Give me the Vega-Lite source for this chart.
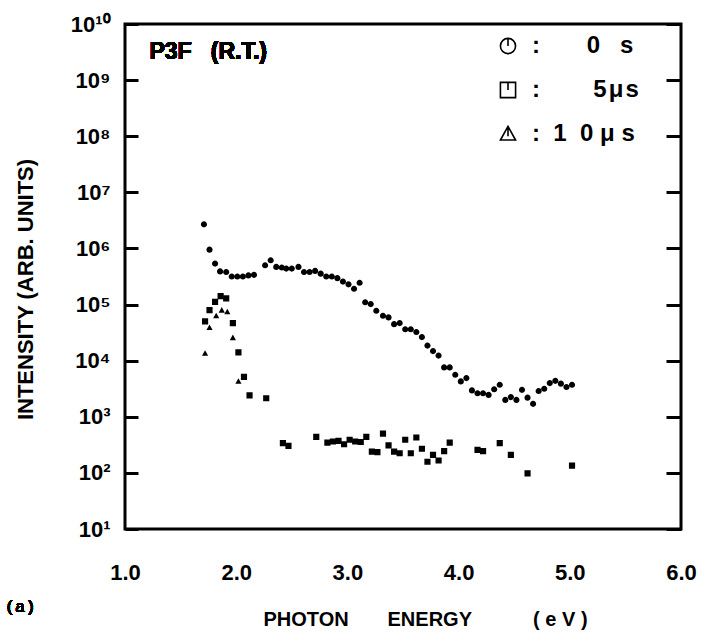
{
  "$schema": "https://vega.github.io/schema/vega-lite/v6.json",
  "width": 556,
  "height": 505,
  "autosize": {"type": "none"},
  "padding": {"left": 125, "top": 24, "right": 26, "bottom": 112},
  "background": "white",
  "config": {
    "font": "Liberation Sans",
    "view": {"stroke": "black", "strokeWidth": 3},
    "axis": {"grid": false, "domain": false, "labelColor": "black", "titleColor": "black", "labelFont": "Liberation Sans", "titleFont": "Liberation Sans"}
  },
  "data": {
    "values": [
      {"E": 1.71, "I": 2690000, "t": "0 s"},
      {"E": 1.76, "I": 950000, "t": "0 s"},
      {"E": 1.81, "I": 537000, "t": "0 s"},
      {"E": 1.855, "I": 389000, "t": "0 s"},
      {"E": 1.91, "I": 380000, "t": "0 s"},
      {"E": 1.96, "I": 316000, "t": "0 s"},
      {"E": 2.01, "I": 316000, "t": "0 s"},
      {"E": 2.06, "I": 316000, "t": "0 s"},
      {"E": 2.11, "I": 331000, "t": "0 s"},
      {"E": 2.16, "I": 339000, "t": "0 s"},
      {"E": 2.26, "I": 501000, "t": "0 s"},
      {"E": 2.31, "I": 617000, "t": "0 s"},
      {"E": 2.36, "I": 468000, "t": "0 s"},
      {"E": 2.41, "I": 457000, "t": "0 s"},
      {"E": 2.45, "I": 437000, "t": "0 s"},
      {"E": 2.50, "I": 437000, "t": "0 s"},
      {"E": 2.56, "I": 468000, "t": "0 s"},
      {"E": 2.61, "I": 380000, "t": "0 s"},
      {"E": 2.66, "I": 380000, "t": "0 s"},
      {"E": 2.71, "I": 398000, "t": "0 s"},
      {"E": 2.76, "I": 355000, "t": "0 s"},
      {"E": 2.81, "I": 316000, "t": "0 s"},
      {"E": 2.86, "I": 316000, "t": "0 s"},
      {"E": 2.91, "I": 295000, "t": "0 s"},
      {"E": 2.96, "I": 257000, "t": "0 s"},
      {"E": 3.01, "I": 229000, "t": "0 s"},
      {"E": 3.06, "I": 191000, "t": "0 s"},
      {"E": 3.11, "I": 245000, "t": "0 s"},
      {"E": 3.16, "I": 110000, "t": "0 s"},
      {"E": 3.21, "I": 102000, "t": "0 s"},
      {"E": 3.26, "I": 77600, "t": "0 s"},
      {"E": 3.32, "I": 63100, "t": "0 s"},
      {"E": 3.37, "I": 58900, "t": "0 s"},
      {"E": 3.42, "I": 44700, "t": "0 s"},
      {"E": 3.47, "I": 46800, "t": "0 s"},
      {"E": 3.52, "I": 36300, "t": "0 s"},
      {"E": 3.57, "I": 36300, "t": "0 s"},
      {"E": 3.62, "I": 32400, "t": "0 s"},
      {"E": 3.67, "I": 26300, "t": "0 s"},
      {"E": 3.72, "I": 18600, "t": "0 s"},
      {"E": 3.77, "I": 14800, "t": "0 s"},
      {"E": 3.82, "I": 12300, "t": "0 s"},
      {"E": 3.87, "I": 7590, "t": "0 s"},
      {"E": 3.92, "I": 7590, "t": "0 s"},
      {"E": 3.97, "I": 5620, "t": "0 s"},
      {"E": 4.02, "I": 4270, "t": "0 s"},
      {"E": 4.07, "I": 4900, "t": "0 s"},
      {"E": 4.12, "I": 2950, "t": "0 s"},
      {"E": 4.17, "I": 2630, "t": "0 s"},
      {"E": 4.22, "I": 2630, "t": "0 s"},
      {"E": 4.27, "I": 2450, "t": "0 s"},
      {"E": 4.32, "I": 3090, "t": "0 s"},
      {"E": 4.37, "I": 3720, "t": "0 s"},
      {"E": 4.42, "I": 2000, "t": "0 s"},
      {"E": 4.47, "I": 2240, "t": "0 s"},
      {"E": 4.52, "I": 2000, "t": "0 s"},
      {"E": 4.57, "I": 3020, "t": "0 s"},
      {"E": 4.62, "I": 2190, "t": "0 s"},
      {"E": 4.67, "I": 1700, "t": "0 s"},
      {"E": 4.72, "I": 2880, "t": "0 s"},
      {"E": 4.77, "I": 3160, "t": "0 s"},
      {"E": 4.82, "I": 3980, "t": "0 s"},
      {"E": 4.87, "I": 4370, "t": "0 s"},
      {"E": 4.92, "I": 3890, "t": "0 s"},
      {"E": 4.97, "I": 3390, "t": "0 s"},
      {"E": 5.02, "I": 3720, "t": "0 s"},
      {"E": 1.72, "I": 50100, "t": "5μs"},
      {"E": 1.76, "I": 79400, "t": "5μs"},
      {"E": 1.81, "I": 112000, "t": "5μs"},
      {"E": 1.86, "I": 141000, "t": "5μs"},
      {"E": 1.91, "I": 129000, "t": "5μs"},
      {"E": 1.97, "I": 46800, "t": "5μs"},
      {"E": 2.02, "I": 14100, "t": "5μs"},
      {"E": 2.07, "I": 5130, "t": "5μs"},
      {"E": 2.12, "I": 2400, "t": "5μs"},
      {"E": 2.27, "I": 2140, "t": "5μs"},
      {"E": 2.42, "I": 339, "t": "5μs"},
      {"E": 2.47, "I": 302, "t": "5μs"},
      {"E": 2.72, "I": 437, "t": "5μs"},
      {"E": 2.82, "I": 347, "t": "5μs"},
      {"E": 2.87, "I": 363, "t": "5μs"},
      {"E": 2.92, "I": 372, "t": "5μs"},
      {"E": 2.97, "I": 324, "t": "5μs"},
      {"E": 3.02, "I": 389, "t": "5μs"},
      {"E": 3.07, "I": 363, "t": "5μs"},
      {"E": 3.12, "I": 355, "t": "5μs"},
      {"E": 3.17, "I": 437, "t": "5μs"},
      {"E": 3.22, "I": 240, "t": "5μs"},
      {"E": 3.27, "I": 234, "t": "5μs"},
      {"E": 3.32, "I": 501, "t": "5μs"},
      {"E": 3.37, "I": 309, "t": "5μs"},
      {"E": 3.42, "I": 240, "t": "5μs"},
      {"E": 3.47, "I": 224, "t": "5μs"},
      {"E": 3.52, "I": 389, "t": "5μs"},
      {"E": 3.57, "I": 224, "t": "5μs"},
      {"E": 3.62, "I": 427, "t": "5μs"},
      {"E": 3.67, "I": 269, "t": "5μs"},
      {"E": 3.72, "I": 158, "t": "5μs"},
      {"E": 3.77, "I": 209, "t": "5μs"},
      {"E": 3.82, "I": 166, "t": "5μs"},
      {"E": 3.87, "I": 245, "t": "5μs"},
      {"E": 3.92, "I": 347, "t": "5μs"},
      {"E": 4.17, "I": 257, "t": "5μs"},
      {"E": 4.22, "I": 245, "t": "5μs"},
      {"E": 4.37, "I": 339, "t": "5μs"},
      {"E": 4.47, "I": 209, "t": "5μs"},
      {"E": 4.62, "I": 98, "t": "5μs"},
      {"E": 5.02, "I": 135, "t": "5μs"},
      {"E": 1.72, "I": 13500, "t": "10μs"},
      {"E": 1.76, "I": 38900, "t": "10μs"},
      {"E": 1.82, "I": 63100, "t": "10μs"},
      {"E": 1.87, "I": 79400, "t": "10μs"},
      {"E": 1.92, "I": 74100, "t": "10μs"},
      {"E": 1.97, "I": 25700, "t": "10μs"},
      {"E": 2.02, "I": 4270, "t": "10μs"}
    ]
  },
  "layer": [
    {
      "mark": {"type": "point", "filled": true, "size": 38, "color": "black", "opacity": 1},
      "encoding": {
        "x": {
          "field": "E", "type": "quantitative",
          "scale": {"domain": [1, 6], "nice": false, "zero": false},
          "axis": {
            "values": [1, 2, 3, 4, 5, 6], "format": ".1f", "ticks": false, "labelFlush": false, "labelDx": 3,
            "labelFontSize": 22, "labelFontWeight": "bold", "labelPadding": 33,
            "title": "PHOTON\u00a0\u00a0\u00a0\u00a0\u00a0\u00a0\u00a0ENERGY\u00a0\u00a0\u00a0\u00a0\u00a0\u00a0\u00a0\u00a0\u00a0\u00a0\u00a0(\u00a0e\u00a0V\u00a0)",
            "titleFontSize": 20, "titleFontWeight": "bold", "titlePadding": 26, "titleX": 300
          }
        },
        "y": {
          "field": "I", "type": "quantitative",
          "scale": {"type": "log", "domain": [10, 10000000000], "nice": false},
          "axis": {
            "orient": "left",
            "values": [10, 100, 1000, 10000, 100000, 1000000, 10000000, 100000000, 1000000000, 10000000000],
            "labelExpr": "['10¹','10²','10³','10⁴','10⁵','10⁶','10⁷','10⁸','10⁹','10¹⁰'][round(log(datum.value)/LN10)-1]",
            "tickSize": -13, "tickWidth": 3, "tickColor": "black",
            "labelFontSize": 22, "labelFontWeight": "bold", "labelPadding": 28,
            "title": "INTENSITY (ARB. UNITS)", "titleFontSize": 22, "titleFontWeight": "bold",
            "titleX": -88, "titleY": 265, "titleAnchor": "middle"
          }
        },
        "shape": {
          "field": "t", "type": "nominal",
          "scale": {
            "domain": ["0 s", "5μs", "10μs"],
            "range": [
              "M-1,0A1,1 0 1,0 1,0A1,1 0 1,0 -1,0ZM0,-1L0,0",
              "M-1,-1L1,-1L1,1L-1,1ZM0,-1L0,0",
              "M0,-1L1,0.8L-1,0.8ZM0,-1L0,0.3"
            ]
          },
          "legend": null
        }
      }
    },
    {
      "mark": {"type": "point", "filled": false, "opacity": 0, "color": "black", "strokeWidth": 1.5},
      "encoding": {
        "x": {"field": "E", "type": "quantitative"},
        "y": {"field": "I", "type": "quantitative", "axis": null},
        "shape": {
          "field": "t", "type": "nominal",
          "scale": {
            "domain": ["0 s", "5μs", "10μs"],
            "range": [
              "M-1,0A1,1 0 1,0 1,0A1,1 0 1,0 -1,0ZM0,-1L0,0",
              "M-1,-1L1,-1L1,1L-1,1ZM0,-1L0,0",
              "M0,-1L1,0.8L-1,0.8ZM0,-1L0,0.3"
            ]
          },
          "legend": {
            "orient": "none", "legendX": 371, "legendY": 10, "title": null,
            "direction": "vertical", "padding": 0, "rowPadding": 20,
            "symbolSize": 230, "symbolStrokeWidth": 1.6, "symbolOpacity": 1, "symbolStrokeColor": "black", "symbolFillColor": "white",
            "labelFontSize": 24, "labelFontWeight": "bold", "labelColor": "black", "labelOffset": 12, "labelLimit": 300,
            "labelExpr": "datum.label == '0 s' ? ':\u00a0\u00a0\u00a0\u00a0\u00a0\u00a0\u00a00\u00a0\u00a0\u00a0s' : datum.label == '5μs' ? ':\u00a0\u00a0\u00a0\u00a0\u00a0\u00a0\u00a0\u00a05\u200aμ\u200as' : ':\u00a0\u00a01\u00a0\u00a00\u00a0μ\u00a0s'"
          }
        }
      }
    },
    {
      "mark": {"type": "point", "opacity": 0},
      "encoding": {
        "x": {"field": "E", "type": "quantitative"},
        "y": {
          "field": "I", "type": "quantitative",
          "axis": {
            "orient": "right", "labels": false, "title": null,
            "values": [10, 100, 1000, 10000, 100000, 1000000, 10000000, 100000000, 1000000000, 10000000000],
            "tickSize": -15, "tickWidth": 3, "tickColor": "black"
          }
        }
      }
    },
    {
      "mark": {"type": "text", "align": "left", "baseline": "alphabetic", "fontSize": 23, "fontWeight": "bold", "color": "black"},
      "encoding": {
        "x": {"datum": 1.22},
        "y": {"datum": 2400000000, "axis": null},
        "text": {"value": "P3F\u00a0\u00a0\u00a0(R.T.)"}
      }
    },
    {
      "mark": {"type": "text", "align": "left", "baseline": "middle", "fontSize": 17, "font": "Liberation Mono", "color": "black"},
      "encoding": {
        "x": {"datum": -0.08},
        "y": {"datum": 0.4, "axis": null},
        "text": {"value": "(a)"}
      }
    }
  ],
  "resolve": {"axis": {"y": "independent"}, "scale": {"shape": "independent"}, "legend": {"shape": "independent"}}
}
